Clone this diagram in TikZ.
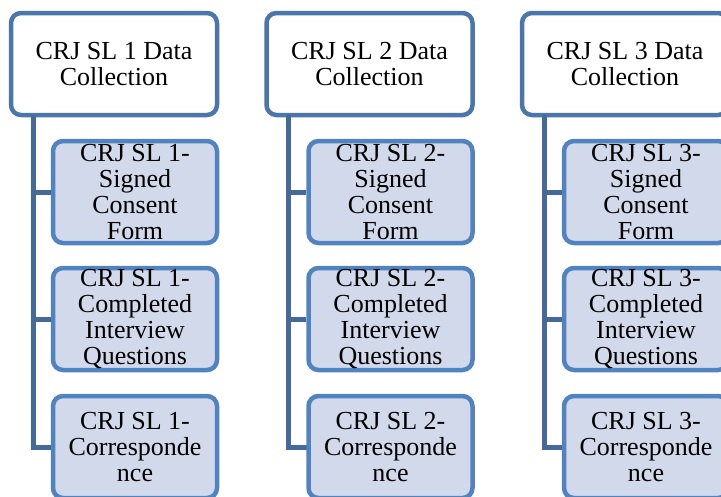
\documentclass[tikz,border=0pt]{standalone}
\usepackage{fontspec}
\setmainfont{Liberation Serif}
\definecolor{topline}{HTML}{4A76AB}
\definecolor{childline}{HTML}{5083C0}
\definecolor{childfill}{HTML}{D2D9EA}
\definecolor{connline}{HTML}{44699B}
\tikzset{
  topbox/.style={draw=topline, fill=white, line width=4.5pt, rounded corners=10pt,
    minimum width=206pt, minimum height=102pt, align=center, inner sep=0pt,
    font=\fontsize{26pt}{26pt}\selectfont},
  childbox/.style={draw=childline, fill=childfill, line width=4.5pt, rounded corners=10pt,
    minimum width=164pt, minimum height=102pt, align=center, inner sep=0pt,
    font=\fontsize{26pt}{26pt}\selectfont},
  conn/.style={draw=connline, line width=5pt}
}
\begin{document}
\begin{tikzpicture}[x=1pt,y=-1pt]
\useasboundingbox (0,0) rectangle (721,496);
\foreach \i/\dx in {1/0,2/255.5,3/511}{
  \begin{scope}[xshift=\dx pt]
  \node[topbox] (t\i) at (114,64) {CRJ SL \i\ Data\\Collection};
  \coordinate (s\i) at (33,115);
  \draw[conn] (s\i) |- (135,447) coordinate (e\i);
  \end{scope}
}
\foreach \i/\dx in {1/0,2/255.5,3/511}{
  \begin{scope}[xshift=\dx pt]
  \node[childbox] (a\i) at (135,192) {CRJ SL \i-\\Signed\\Consent\\Form};
  \node[childbox] (b\i) at (135,319) {CRJ SL \i-\\Completed\\Interview\\Questions};
  \node[childbox] (c\i) at (135,447) {CRJ SL \i-\\Corresponde\\nce};
  \end{scope}
  \draw[conn] (s\i) |- (a\i.west);
  \draw[conn] (s\i) |- (b\i.west);
}
\end{tikzpicture}
\end{document}
